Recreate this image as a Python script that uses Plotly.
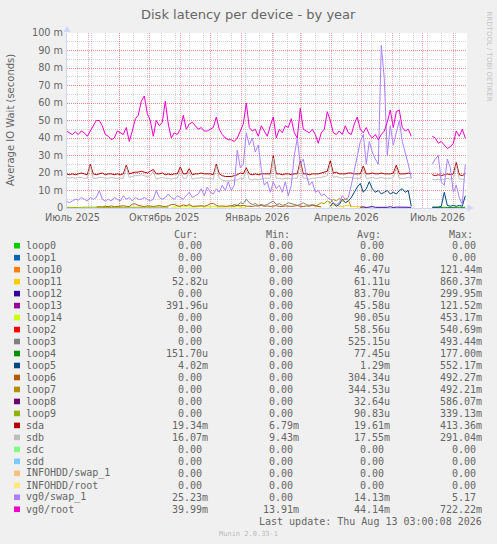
import pandas as pd
import plotly.graph_objects as go

# one sample every 3 days, 2025-07-10 .. 2026-08-13 (gap late June 2026)
DATES = pd.date_range('2025-07-10', periods=134, freq='3D')

# values in milliseconds
VG0_ROOT = [44, 43, 42, 43.5, 42, 44, 43, 41, 44, 47,
            50, 50, 47, 42, 41, 39, 40, 44, 43, 42,
            46, 38, 44, 51, 53, 61, 64, 54, 50, 41,
            50, 47, 49, 61, 48, 40, 43, 42, 45, 53,
            45, 48, 49, 47, 45, 46, 44, 44, 45, 46,
            52, 45, 42, 40, 39, 39, 38, 40, 44, 48,
            60, 46, 44, 45, 41, 47, 44, 41, 47, 52,
            40, 45, 43, 47, 46, 51, 43, 40, 57, 45,
            44, 43, 45, 42, 37, 43, 45, 55, 50, 43,
            42, 44, 42, 47, 43, 42, 48, 52, 45, 43,
            46, 42, 40, 42, 39, 42, 44, 49, 56, 46,
            55, 56, 46, 44, 45, 41,
            None, None, None, None, None, None,
            41, 40, 37, 38, 36, 34, 35, 37, 44, 41, 45, 40]

VG0_SWAP = [4, 3, 4, 5, 4.5, 6, 5, 4, 6, 5,
            6, 10, 5, 4, 5, 4, 6, 5, 4, 7,
            5, 6, 4, 6, 5, 5, 6, 5, 4, 5,
            10, 6, 5, 6, 8, 6, 5, 7, 6, 5,
            7, 9, 6, 7, 8, 11, 7, 12, 9, 8,
            11, 9, 13, 10, 15, 10, 13, 33, 23, 25,
            43, 36, 40, 32, 36, 22, 13, 15, 9, 15,
            11, 13, 9, 15, 7, 13, 30, 40, 25, 28,
            19, 13, 15, 9, 10, 7, 8, 6, 5, 3,
            2, 3, 7, 5, 6, 13, 21, 30, 38, 42,
            25, 38, 32, 28, 25, 93, 74, 30, 47, 36,
            44, 50, 38, 32, 25, 17,
            None, None, None, None, None, None,
            25, 28, 30, 15, 13, 28, 23, 9, 13, 6, 2, 25]

SDA = [19.5, 19, 19.5, 19, 19.5, 20, 19.5, 19, 25, 19.5,
       19, 19.5, 20, 19, 19.5, 19.5, 19, 19.5, 19, 19.5,
       24.5, 19.5, 20, 20.5, 20.5, 21, 20.5, 20, 21, 22,
       19.5, 19.5, 20, 19, 19.5, 19, 19.5, 19.5, 23.5, 19.5,
       19.5, 22.5, 19, 19.5, 19.5, 20, 19.5, 19.5, 19.5, 19,
       25, 19.5, 18.5, 18, 18, 18, 18.5, 19, 20, 19.5,
       23, 19.5, 19, 19.5, 19, 19.5, 19.5, 19.5, 19.5, 30,
       19.5, 19.5, 19, 19.5, 19.5, 19, 19.5, 19.5, 27, 19.5,
       19.5, 19, 19.5, 19.5, 19.5, 20, 20.5, 21, 27, 20,
       20.5, 19.5, 19.5, 19.5, 20, 20, 19.5, 19.5, 19.5, 24,
       19.5, 19.5, 20, 19.5, 19.5, 20, 19.5, 19.5, 19.5, 20,
       24.5, 19.5, 19.5, 19.5, 20, 19.5,
       None, None, None, None, None, None,
       19, 18.5, 19, 18.5, 19, 19.5, 19, 19.5, 26, 19, 18.5, 19.5]

SDB = [17.5, 17, 17.5, 17, 17.5, 17.5, 17, 17, 24, 17,
       17, 17.5, 17.5, 17, 17, 17.5, 17, 17, 17, 17,
       23.5, 17.5, 18, 18.5, 18.5, 19, 18.5, 18, 18.5, 21,
       16.5, 17, 17.5, 17, 17, 16.5, 17, 17, 22, 17,
       17, 21, 16.5, 17, 17, 17.5, 17, 17, 17, 16.5,
       24, 17, 16, 15.5, 15.5, 15.5, 16, 16, 17, 16.5,
       22, 16.5, 16, 16.5, 16, 16.5, 17, 17, 17, 28.5,
       17, 17, 16.5, 17, 17, 16.5, 17, 17, 25.5, 17,
       17, 16.5, 17, 17, 17.5, 17.5, 18, 18.5, 25.5, 17.5,
       18, 17.5, 17, 17.5, 17.5, 17.5, 17, 17, 17, 22.5,
       17, 17, 17.5, 17, 17, 17.5, 17, 17, 17, 17.5,
       23, 17, 17, 17, 17.5, 17,
       None, None, None, None, None, None,
       16.5, 16, 16.5, 16, 16.5, 17, 16.5, 17, 24.5, 16.5, 16.5, 16]

# smaller loop devices, each starting at a sample index
LOOP5_FROM = 88
LOOP5 = [1, 3, 1, 2, 5, 3, 4, 6, 9, 12, 14, 9, 11, 15, 11, 9, 10, 8, 9, 10,
         8, 9, 8, 10, 11, 9, 10, 1,
         None, None, None, None, None, None,
         0.5, 0.5, 0.5, 1, 9, 1.5, 1, 1.5, 1, 1.5, 1, 7]
LOOP3_FROM = 55
LOOP3 = [1, 2, 1.5, 3, 2.5, 5, 3, 2, 2.5, 1.5, 2, 1.5, 2, 3, 4, 2, 2.5, 1.5, 2, 3,
         2.5, 2, 1.5, 2, 3, 2, 1.5, 2, 1.5, 1]
LOOP7_FROM = 83
LOOP7 = [1, 2, 3, 2.5, 4, 3, 5, 4, 5.5, 4, 5, 4.5, 0.5]
LOOP6_FROM = 10
LOOP6 = [0.5, 0.8, 0.6, 1, 0.8, 1.2, 0.7, 1, 0.9, 1.3,
         1, 0.8, 2.2, 2.4, 1.5, 1, 0.8, 1.2, 1, 0.9,
         1.1, 1.4, 1, 0.8, 1.2, 2, 2.1, 1.2, 1, 1.8,
         1.3, 2, 1, 0.9, 1.1, 1.3, 1, 1.5, 2.4, 2.6,
         1.5, 1, 1.2, 0.9, 1.1, 1.3, 1, 1.6, 1.2, 1.5,
         1.1, 1, 0.9, 1.3, 1.1, 1.5, 1, 1.2, 0.9, 1.1,
         1.3, 1, 0.8, 1.2, 1, 0.9, 1.1, 1.4, 1, 0.8,
         1.2, 1, 1.5, 1.1, 0.9, 0.6]
LOOP11_FROM = 88
LOOP11 = [1, 1.5, 2, 1, 0.8, 1.2, 1.5, 1, 0.8, 0.5, 0.6, 0.4, 0.3]
LOOP14_FROM = 35
LOOP14 = [0.5, 0.6, 0.4, 0.7, 0.5, 0.8, 0.6, 0.4, 0.5, 0.7, 0.9, 0.6, 0.5,
          0.7, 0.8, 0.6, 0.5, 0.4, 0.6, 0.5, 0.7, 0.6, 0.8, 0.5, 0.4, 0.6]
LOOP12_FROM = 98
LOOP12 = [0.4, 0.6, 0.3, 0.5, 0.8, 0.4, 0.3, 0.6, 0.5, 0.4, 0.7, 0.3, 0.5,
          0.4, 0.6, 0.5, 0.3, 0.4]
LOOP4_FROM = 122
LOOP4 = [0.3, 0.4, 0.3, 0.5, 0.4, 0.3, 0.4, 0.5, 0.3, 0.4, 0.3, 0.5]
LOOP9_FROM = 0
LOOP9 = [0.4, 0.3, 0.5, 0.4, 0.3, 0.4, 0.5, 0.3, 0.4, 0.5, 0.4, 0.3, 0.4, 0.5,
         0.4, 0.3, 0.4, 0.4, 0.5, 0.3, 0.4, 0.5, 0.4, 0.3, 0.4, 0.5, 0.4, 0.3,
         0.4, 0.5, 0.4, 0.3, 0.4, 0.4, 0.5]

# legend table
NAMES = ['loop0', 'loop1', 'loop10', 'loop11', 'loop12', 'loop13', 'loop14',
         'loop2', 'loop3', 'loop4', 'loop5', 'loop6', 'loop7', 'loop8', 'loop9',
         'sda', 'sdb', 'sdc', 'sdd', 'INFOHDD/swap_1', 'INFOHDD/root',
         'vg0/swap_1', 'vg0/root']
COLORS = ['#00CC00', '#0066B3', '#FF8000', '#FFCC00', '#330099', '#990099',
          '#CCFF00', '#FF0000', '#808080', '#008F00', '#00487D', '#B35A00',
          '#B38F00', '#6B006B', '#8FB300', '#B30000', '#BEBEBE', '#80FF80',
          '#80C9FF', '#FFC080', '#FFE680', '#AA80FF', '#EE00CC']
CUR = ['0.00', '0.00', '0.00', '52.82u', '0.00', '391.96u', '0.00', '0.00',
       '0.00', '151.70u', '4.02m', '0.00', '0.00', '0.00', '0.00', '19.34m',
       '16.07m', '0.00', '0.00', '0.00', '0.00', '25.23m', '39.99m']
MIN = ['0.00', '0.00', '0.00', '0.00', '0.00', '0.00', '0.00', '0.00',
       '0.00', '0.00', '0.00', '0.00', '0.00', '0.00', '0.00', '6.79m',
       '9.43m', '0.00', '0.00', '0.00', '0.00', '0.00', '13.91m']
AVG = ['0.00', '0.00', '46.47u', '61.11u', '83.70u', '45.58u', '90.05u',
       '58.56u', '525.15u', '77.45u', '1.29m', '304.34u', '344.53u', '32.64u',
       '90.83u', '19.61m', '17.55m', '0.00', '0.00', '0.00', '0.00', '14.13m',
       '44.14m']
MAX = ['0.00', '0.00', '121.44m', '860.37m', '299.95m', '121.52m', '453.17m',
       '540.69m', '493.44m', '177.00m', '552.17m', '492.27m', '492.21m',
       '586.07m', '339.13m', '413.36m', '291.04m', '0.00', '0.00', '0.00',
       '0.00', '5.17', '722.22m']

X_LABEL_DATES = ['2025-07-16 12:00', '2025-10-16 12:00', '2026-01-16 12:00',
                 '2026-04-16 12:00', '2026-07-16 12:00']
X_LABELS = ['Июль 2025', 'Октябрь 2025', 'Январь 2026', 'Апрель 2026', 'Июль 2026']
MONTH_STARTS = pd.date_range('2025-08-01', '2026-08-01', freq='MS')
Y_TICKS = list(range(0, 101, 10))
Y_LABELS = ['0'] + ['%d m' % v for v in Y_TICKS[1:]]

# page geometry (pixels)
W, H = 497, 544
L, R, T, B = 67, 467, 33, 208
FONT = 'DejaVu Sans'
MONO = 'DejaVu Sans Mono'
GREY = '#666666'
AXIS = '#CFD6F8'


def px(x):
    return (x - L) / (R - L)


def py(y):
    return (B - y) / (B - T)


fig = go.Figure()

# draw order as munin: later on top
series = [
    ('loop11', LOOP11, LOOP11_FROM), ('loop12', LOOP12, LOOP12_FROM),
    ('loop14', LOOP14, LOOP14_FROM), ('loop3', LOOP3, LOOP3_FROM),
    ('loop4', LOOP4, LOOP4_FROM), ('loop5', LOOP5, LOOP5_FROM),
    ('loop6', LOOP6, LOOP6_FROM), ('loop7', LOOP7, LOOP7_FROM),
    ('loop9', LOOP9, LOOP9_FROM), ('sda', SDA, 0), ('sdb', SDB, 0),
    ('vg0/swap_1', VG0_SWAP, 0), ('vg0/root', VG0_ROOT, 0),
]
for name, vals, start in series:
    fig.add_trace(go.Scatter(
        x=DATES[start:start + len(vals)], y=vals, mode='lines', name=name,
        line=dict(color=COLORS[NAMES.index(name)], width=1),
        connectgaps=False, hoverinfo='skip'))

ann = []
shapes = []

ann.append(dict(text='Disk latency per device - by year', x=px(248.5), y=py(14),
                font=dict(family=FONT, size=13, color=GREY)))
ann.append(dict(text='Average IO Wait (seconds)', x=px(10.5), y=py(120.5),
                textangle=-90, font=dict(family=FONT, size=10, color=GREY)))
ann.append(dict(text='RRDTOOL / TOBI OETIKER', x=px(488.5), y=py(56),
                textangle=90, font=dict(family=FONT, size=7, color='#C4C4C4')))

for d, lab in zip(X_LABEL_DATES, X_LABELS):
    ann.append(dict(text=lab, x=d, xref='x', y=py(217.5),
                    font=dict(family=FONT, size=9.7, color=GREY)))

# legend
hdr_x = [172.5, 265, 356, 447.5]
for h, hx in zip(['Cur:', 'Min:', 'Avg:', 'Max:'], hdr_x):
    ann.append(dict(text=h, x=px(hx), y=py(234), xanchor='left',
                    font=dict(family=MONO, size=10, color=GREY)))

edges = [209, 300, 391, 483]
for k, name in enumerate(NAMES):
    ry = 245.7 + k * 11.98
    shapes.append(dict(type='rect', xref='paper', yref='paper',
                       x0=px(14), x1=px(20), y0=py(ry + 2.8), y1=py(ry - 2.8),
                       fillcolor=COLORS[k], line=dict(width=0)))
    ann.append(dict(text=name, x=px(25), y=py(ry), xanchor='left',
                    font=dict(family=MONO, size=10, color=GREY)))
    for col, e in zip([CUR, MIN, AVG, MAX], edges):
        s = col[k]
        xe = e if s[-1].isalpha() else e - 6
        ann.append(dict(text=s, x=px(xe), y=py(ry), xanchor='right',
                        font=dict(family=MONO, size=10, color=GREY)))

ann.append(dict(text='Last update: Thu Aug 13 03:00:08 2026', x=px(483), y=py(521.5),
                xanchor='right', font=dict(family=MONO, size=10, color=GREY)))
ann.append(dict(text='Munin 2.0.33-1', x=px(248.5), y=py(533.5),
                font=dict(family=MONO, size=7, color='#BBBBBB')))

for a in ann:
    a.setdefault('xref', 'paper')
    a.setdefault('yref', 'paper')
    a.setdefault('showarrow', False)
    a.setdefault('xanchor', 'center')
    a.setdefault('yanchor', 'middle')
    a['borderpad'] = 0

# axis arrows
shapes.append(dict(type='path', xref='paper', yref='paper', line=dict(width=0),
                   fillcolor=AXIS,
                   path='M %f %f L %f %f L %f %f Z' % (px(63.5), py(32), px(70.5), py(32),
                                                       px(67), py(26))))
shapes.append(dict(type='path', xref='paper', yref='paper', line=dict(width=0),
                   fillcolor=AXIS,
                   path='M %f %f L %f %f L %f %f Z' % (px(467.5), py(204.5), px(467.5),
                                                       py(211.5), px(473.5), py(208))))

fig.update_layout(
    width=W, height=H, autosize=False,
    margin=dict(l=L, r=W - R, t=T, b=H - B, pad=0),
    paper_bgcolor='#F0F0F0', plot_bgcolor='#FFFFFF',
    showlegend=False,
    annotations=ann, shapes=shapes,
    xaxis=dict(type='date', range=['2025-07-10 17:00', '2026-08-14 17:00'],
               tickmode='array', tickvals=MONTH_STARTS, ticktext=[''] * len(MONTH_STARTS),
               ticks='', showgrid=True, gridcolor='rgba(255,0,0,0.33)', griddash='1px,1px',
               gridwidth=1, zeroline=False, showline=True, linecolor=AXIS, linewidth=1,
               minor=dict(tick0='2025-07-21', dtick=14 * 86400000, showgrid=True,
                          gridcolor='rgba(160,160,160,0.45)', griddash='1px,1px', gridwidth=1),
               fixedrange=True),
    yaxis=dict(range=[0, 100], tickmode='array', tickvals=Y_TICKS, ticktext=Y_LABELS,
               tickfont=dict(family=FONT, size=9.7, color=GREY),
               ticks='', ticklabelstandoff=1,
               showgrid=True, gridcolor='rgba(255,0,0,0.33)', griddash='1px,1px', gridwidth=1,
               zeroline=False, showline=True, linecolor=AXIS, linewidth=1,
               minor=dict(dtick=5, showgrid=True, gridcolor='rgba(160,160,160,0.45)',
                          griddash='1px,1px', gridwidth=1),
               fixedrange=True),
)

# page body has a default 8px margin; drop it so the figure sits at 0,0
fig.write_html('out.html', config={'displayModeBar': False},
               post_script="document.body.style.margin='0';")
